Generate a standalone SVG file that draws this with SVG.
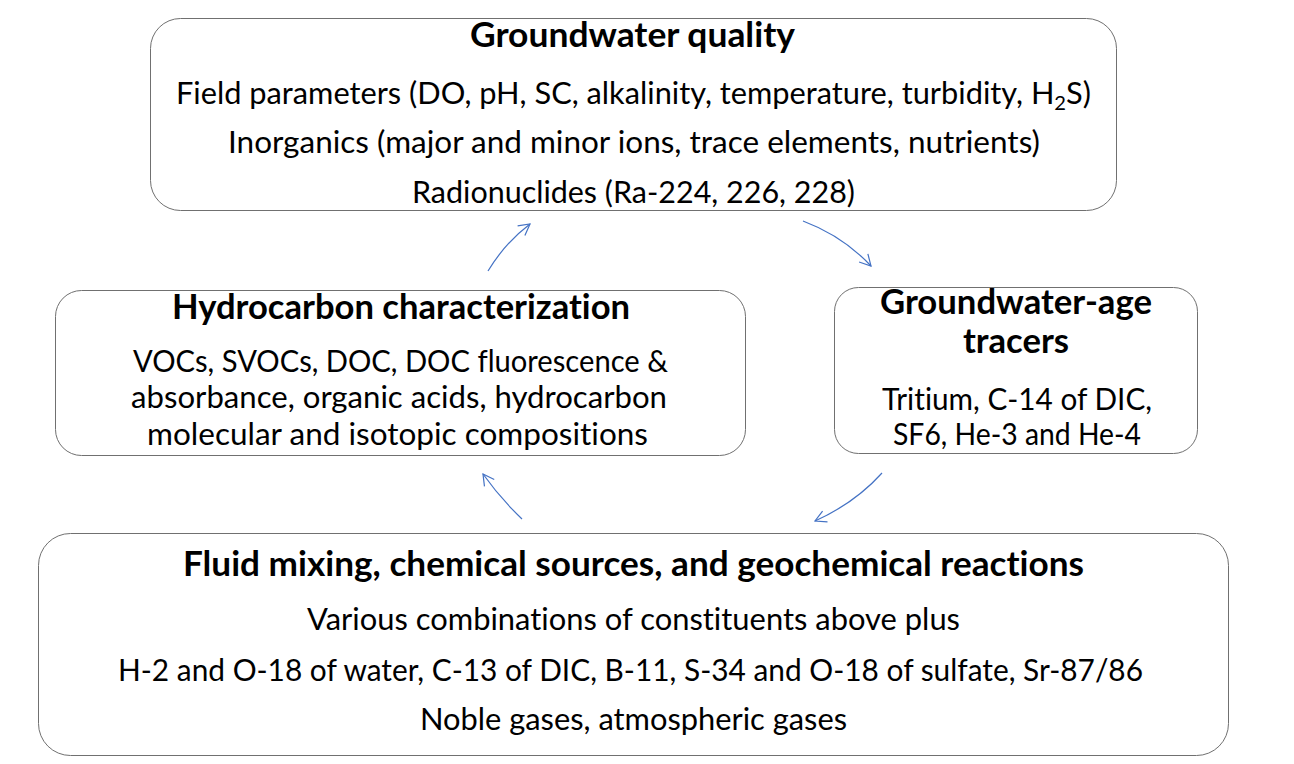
<svg xmlns="http://www.w3.org/2000/svg" width="1294" height="764" viewBox="0 0 1294 764">
<defs>
<style>
.box{fill:#fff;stroke:#707070;stroke-width:1}
.t{font-family:Lato,"Liberation Sans",sans-serif;font-size:30.5px;fill:#000;text-anchor:middle;font-variant-ligatures:none;font-feature-settings:"liga" 0,"dlig" 0}
.b{font-weight:bold;font-size:34.5px}
.c{fill:none;stroke:#4472C4;stroke-width:1.2}
</style>
<marker id="ah" markerWidth="14" markerHeight="14" refX="12" refY="7" orient="auto" markerUnits="userSpaceOnUse">
<path d="M1,1 L12,7 L1,13" fill="none" stroke="#4472C4" stroke-width="1.2"/>
</marker>
</defs>
<rect width="1294" height="764" fill="#fff"/>
<g id="quality">
<rect class="box" x="150.5" y="18.5" width="966" height="192" rx="30"/>
<text class="t b" x="632.5" y="47" textLength="325" lengthAdjust="spacingAndGlyphs">Groundwater quality</text>
<text class="t" x="633.5" y="104" textLength="915" lengthAdjust="spacingAndGlyphs">Field parameters (DO, pH, SC, alkalinity, temperature, turbidity, H<tspan font-size="20" dy="6">2</tspan><tspan dy="-6">S)</tspan></text>
<text class="t" x="634" y="153" textLength="812" lengthAdjust="spacingAndGlyphs">Inorganics (major and minor ions, trace elements, nutrients)</text>
<text class="t" x="633.5" y="203" textLength="443" lengthAdjust="spacingAndGlyphs">Radionuclides (Ra-224, 226, 228)</text>
</g>
<g id="hydrocarbon">
<rect class="box" x="55.5" y="290.5" width="690" height="165" rx="26"/>
<text class="t b" x="401" y="319" textLength="458" lengthAdjust="spacingAndGlyphs">Hydrocarbon characterization</text>
<text class="t" x="400.5" y="372" textLength="535" lengthAdjust="spacingAndGlyphs">VOCs, SVOCs, DOC, DOC fluorescence &amp;</text>
<text class="t" x="399" y="408" textLength="536" lengthAdjust="spacingAndGlyphs">absorbance, organic acids, hydrocarbon</text>
<text class="t" x="397.5" y="445" textLength="501" lengthAdjust="spacingAndGlyphs">molecular and isotopic compositions</text>
</g>
<g id="age">
<rect class="box" x="834.5" y="287.5" width="363" height="166" rx="24"/>
<text class="t b" x="1016" y="314" textLength="272" lengthAdjust="spacingAndGlyphs">Groundwater-age</text>
<text class="t b" x="1016" y="353" textLength="106" lengthAdjust="spacingAndGlyphs">tracers</text>
<text class="t" x="1017" y="410" textLength="270" lengthAdjust="spacingAndGlyphs">Tritium, C-14 of DIC,</text>
<text class="t" x="1017" y="445" textLength="248" lengthAdjust="spacingAndGlyphs">SF6, He-3 and He-4</text>
</g>
<g id="fluid">
<rect class="box" x="38.5" y="533.5" width="1190" height="222" rx="32"/>
<text class="t b" x="633.5" y="576" textLength="901" lengthAdjust="spacingAndGlyphs">Fluid mixing, chemical sources, and geochemical reactions</text>
<text class="t" x="633.5" y="630" textLength="653" lengthAdjust="spacingAndGlyphs">Various combinations of constituents above plus</text>
<text class="t" x="630.5" y="681" textLength="1025" lengthAdjust="spacingAndGlyphs">H-2 and O-18 of water, C-13 of DIC, B-11, S-34 and O-18 of sulfate, Sr-87/86</text>
<text class="t" x="633.5" y="730" textLength="427" lengthAdjust="spacingAndGlyphs">Noble gases, atmospheric gases</text>
</g>
<g id="connectors">
<path class="c" d="M488,271 Q505,243 530,224" marker-end="url(#ah)"/>
<path class="c" d="M803,221 Q843,236 871,266" marker-end="url(#ah)"/>
<path class="c" d="M882,473 Q855,503 815,521" marker-end="url(#ah)"/>
<path class="c" d="M522,519 Q500,498 483,474" marker-end="url(#ah)"/>
</g>
</svg>
